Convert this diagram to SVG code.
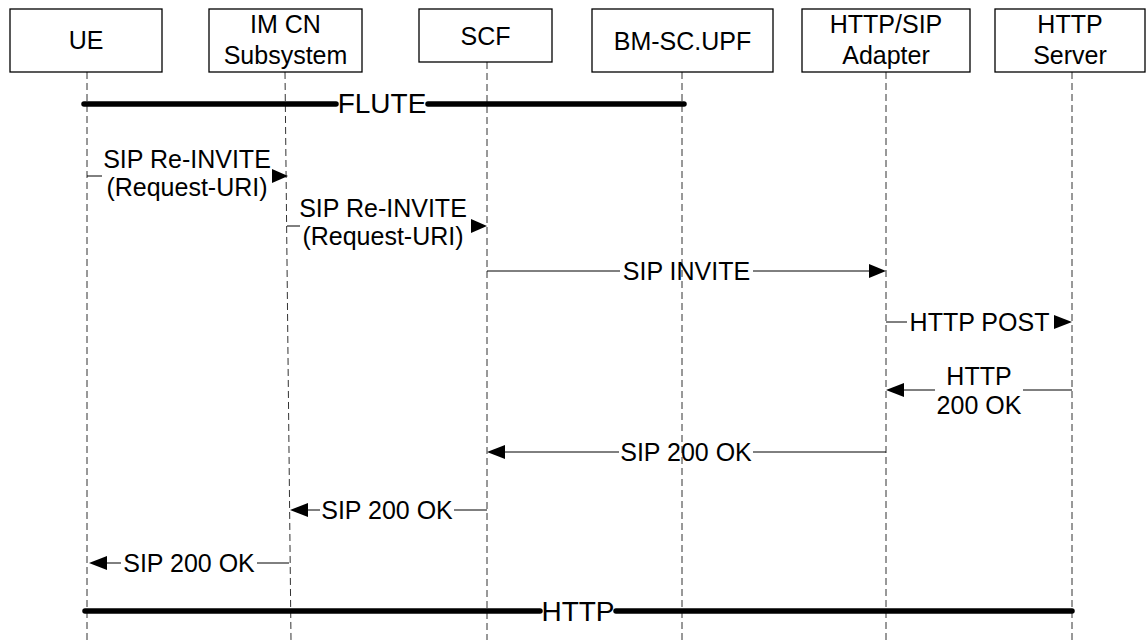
<svg xmlns="http://www.w3.org/2000/svg" width="1146" height="640" viewBox="0 0 1146 640">
<defs>
<style>
.box{fill:#fff;stroke:#000;stroke-width:1.3}
.t{font-family:"Liberation Sans",Arial,sans-serif;font-size:25px;fill:#000;text-anchor:middle}
.big{font-family:"Liberation Sans",Arial,sans-serif;font-size:28px;fill:#000;text-anchor:middle}
.life{stroke:#333;stroke-width:1;stroke-dasharray:7 4;fill:none}
.msg{stroke:#000;stroke-width:1;fill:none}
.thick{stroke:#000;stroke-width:5.5;stroke-linecap:round;fill:none}
.head{fill:#000;stroke:none}
</style>
</defs>
<rect width="1146" height="640" fill="#fff"/>
<g id="lifelines">
<line class="life" x1="87" y1="72" x2="87" y2="640"/>
<line class="life" x1="285" y1="72" x2="291" y2="640"/>
<line class="life" x1="487" y1="62" x2="487" y2="640"/>
<line class="life" x1="682" y1="72" x2="682" y2="640"/>
<line class="life" x1="886" y1="72" x2="886" y2="640"/>
<line class="life" x1="1072" y1="72" x2="1072" y2="640"/>
</g>
<g id="UE"><rect class="box" x="10" y="9" width="152" height="63"/><text class="t" x="86" y="49">UE</text></g>
<g id="IMCN"><rect class="box" x="209" y="9" width="153" height="63"/><text class="t" x="285.5" y="33">IM CN</text><text class="t" x="285.5" y="64">Subsystem</text></g>
<g id="SCF"><rect class="box" x="419" y="9" width="133" height="53"/><text class="t" x="485.5" y="45">SCF</text></g>
<g id="BMSC"><rect class="box" x="592" y="9" width="181" height="63"/><text class="t" x="682.5" y="50">BM-SC.UPF</text></g>
<g id="Adapter"><rect class="box" x="802" y="9" width="168" height="63"/><text class="t" x="886" y="33">HTTP/SIP</text><text class="t" x="886" y="64">Adapter</text></g>
<g id="Server"><rect class="box" x="995" y="9" width="150" height="63"/><text class="t" x="1070" y="33">HTTP</text><text class="t" x="1070" y="64">Server</text></g>
<g id="connectors">
<line class="thick" x1="84" y1="104" x2="336" y2="104"/><line class="thick" x1="428" y1="104" x2="684" y2="104"/>
<text class="big" x="382" y="113">FLUTE</text>
<line class="msg" x1="87" y1="176" x2="102" y2="176"/><polygon class="head" points="288,176 272,169 272,183"/>
<text class="t" x="187" y="168">SIP Re-INVITE</text><text class="t" x="187" y="196">(Request-URI)</text>
<line class="msg" x1="287" y1="226" x2="300" y2="226"/><polygon class="head" points="487,226 471,219 471,233"/>
<text class="t" x="383" y="217">SIP Re-INVITE</text><text class="t" x="383" y="245">(Request-URI)</text>
<line class="msg" x1="487" y1="271" x2="620" y2="271"/><line class="msg" x1="753" y1="271" x2="871" y2="271"/><polygon class="head" points="886,271 869,264 869,278"/>
<text class="t" x="686.5" y="280">SIP INVITE</text>
<line class="msg" x1="886" y1="322" x2="907" y2="322"/><polygon class="head" points="1072,322 1054,315 1054,329"/>
<text class="t" x="979.5" y="331">HTTP POST</text>
<line class="msg" x1="903" y1="390" x2="935" y2="390"/><line class="msg" x1="1023" y1="390" x2="1072" y2="390"/><polygon class="head" points="886,390 904,383 904,397"/>
<text class="t" x="979" y="385">HTTP</text><text class="t" x="979" y="414">200 OK</text>
<line class="msg" x1="503" y1="452" x2="619" y2="452"/><line class="msg" x1="753" y1="452" x2="886" y2="452"/><polygon class="head" points="487,452 505,445 505,459"/>
<text class="t" x="686" y="461">SIP 200 OK</text>
<line class="msg" x1="306" y1="510" x2="320" y2="510"/><line class="msg" x1="454" y1="510" x2="487" y2="510"/><polygon class="head" points="290,510 308,503 308,517"/>
<text class="t" x="387" y="519">SIP 200 OK</text>
<line class="msg" x1="105" y1="563" x2="121" y2="563"/><line class="msg" x1="257" y1="563" x2="289" y2="563"/><polygon class="head" points="89,563 107,556 107,570"/>
<text class="t" x="189" y="572">SIP 200 OK</text>
<line class="thick" x1="85" y1="611" x2="540" y2="611"/><line class="thick" x1="616" y1="611" x2="1072" y2="611"/>
<text class="big" x="578" y="621">HTTP</text>
</g>
</svg>
